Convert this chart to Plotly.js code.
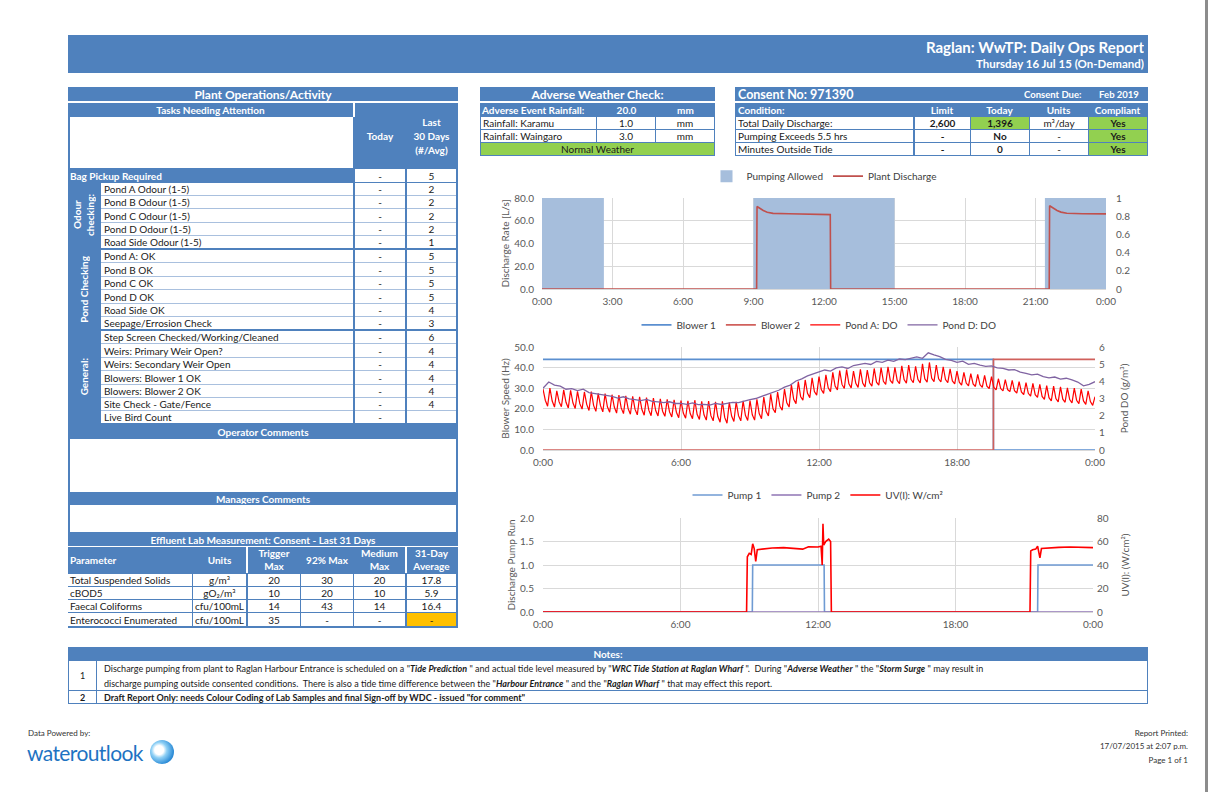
<!DOCTYPE html>
<html><head><meta charset="utf-8">
<script src="https://cdn.plot.ly/plotly-3.0.1.min.js"></script>
<style>
html,body{margin:0;padding:0;background:#fff;}
body{width:1208px;height:792px;position:relative;overflow:hidden;font-family:Lato,"Open Sans",sans-serif;}
.b{position:absolute;box-sizing:border-box;overflow:hidden;white-space:nowrap;}
.chart{position:absolute;}
</style></head><body>
<div id="page"></div>
<div id="c1" class="chart" style="left:478px;top:163px;width:680px;height:150px"></div>
<div id="c2" class="chart" style="left:478px;top:313px;width:680px;height:165px"></div>
<div id="c3" class="chart" style="left:478px;top:483px;width:680px;height:155px"></div>
<script>
// ---------------- DATA ----------------
const reportTitle = 'Raglan: WwTP: Daily Ops Report';
const reportSubtitle = 'Thursday 16 Jul 15 (On-Demand)';

const groupNames = ['Odour<br>checking:', 'Pond Checking', 'General:'];
const groupSizes = [5, 6, 7];
const taskLabels = ['Pond A Odour (1-5)','Pond B Odour (1-5)','Pond C Odour (1-5)','Pond D Odour (1-5)','Road Side Odour (1-5)',
  'Pond A: OK','Pond B OK','Pond C OK','Pond D OK','Road Side OK','Seepage/Errosion Check',
  'Step Screen Checked/Working/Cleaned','Weirs: Primary Weir Open?','Weirs: Secondary Weir Open','Blowers: Blower 1 OK','Blowers: Blower 2 OK','Site Check - Gate/Fence','Live Bird Count'];
const taskToday = ['-','-','-','-','-','-','-','-','-','-','-','-','-','-','-','-','-','-'];
const taskLast30 = ['2','2','2','2','1','5','5','5','5','4','3','6','4','4','4','4','4',''];
const bagPickup = ['Bag Pickup Required','-','5'];

const labParams = ['Total Suspended Solids','cBOD5','Faecal Coliforms','Enterococci Enumerated'];
const labUnits = ['g/m³','gO₂/m³','cfu/100mL','cfu/100mL'];
const labTrigger = ['20','10','14','35'];
const lab92 = ['30','20','43','-'];
const labMedium = ['20','10','14','-'];
const labAvg = ['17.8','5.9','16.4','-'];

const rainEvent = ['Adverse Event Rainfall:','20.0','mm'];
const rainSites = ['Rainfall: Karamu','Rainfall: Waingaro'];
const rainValues = ['1.0','3.0'];
const rainUnits = ['mm','mm'];
const weatherStatus = 'Normal Weather';

const consentNo = 'Consent No: 971390';
const consentDue = 'Feb 2019';
const condLabels = ['Total Daily Discharge:','Pumping Exceeds 5.5 hrs','Minutes Outside Tide'];
const condLimit = ['2,600','-','-'];
const condToday = ['1,396','No','0'];
const condUnits = ['m³/day','-','-'];
const condCompliant = ['Yes','Yes','Yes'];

// Chart 1
const allowStart = ['00:00','09:00','21:24'];
const allowEnd   = ['02:38','15:00','24:00'];
const allowValue = [1,1,1];
const dischargeTime  = ['00:00','09:08','09:09','09:15','09:25','09:35','09:50','10:30','11:30','12:16','12:17','21:35','21:36','21:45','21:55','22:05','22:20','23:00','24:00'];
const dischargeValue = [0,0,72.5,71,69,67.5,66.5,66.2,65.8,65.4,0,0,73.2,71.2,69,67.6,66.6,66.2,66];

// Chart 2
const blowerTime = ['00:00','19:35','19:35','24:00'];
const blower1 = [44,44,0,0];
const blower2 = [0,0,44,44];
const pondA = [ // g/m3, 6-minute samples
3.55,2.9,2.55, 3.6,2.85,2.5, 3.45,2.8,2.52, 3.5,2.78,2.45, 3.48,2.75,2.42, 3.42,2.7,2.38, 3.38,2.66,2.3, 3.4,2.6,2.25,
3.3,2.58,2.22, 3.28,2.52,2.2, 3.22,2.5,2.15, 3.2,2.45,2.12, 3.15,2.42,2.08, 3.12,2.38,2.05, 3.1,2.36,2.03, 3.05,2.32,2.0,
3.02,2.3,1.98, 2.98,2.26,1.96, 2.95,2.22,1.92, 2.92,2.2,1.88, 2.88,2.15,1.85, 2.86,2.12,1.82, 2.9,2.08,1.78, 2.84,2.05,1.74,
2.85,2.0,1.7, 2.8,1.95,1.62, 2.83,1.9,1.56, 2.78,1.98,1.66, 2.8,2.0,1.7, 2.86,2.02,1.72, 2.88,2.05,1.74, 2.95,2.12,1.82,
3.08,2.25,1.98, 3.25,2.4,2.18, 3.38,2.55,2.32, 3.55,2.75,2.5, 3.8,2.95,2.7, 3.98,3.12,2.9, 4.08,3.3,3.05, 4.2,3.4,3.2,
4.28,3.52,3.3, 4.38,3.62,3.4, 4.52,3.72,3.5, 4.62,3.82,3.58, 4.68,3.85,3.62, 4.6,3.88,3.65, 4.7,3.9,3.68, 4.66,3.92,3.72,
4.75,3.95,3.78, 4.8,4.0,3.82, 4.85,4.05,3.88, 4.82,4.05,3.86, 4.9,4.1,3.9, 4.95,4.12,3.92, 4.88,4.12,3.9, 5.02,4.15,3.95,
5.1,4.18,3.98, 4.95,4.15,3.96, 4.85,4.1,3.92, 4.72,4.02,3.85, 4.6,3.95,3.78, 4.52,3.9,3.74, 4.45,3.85,3.7, 4.4,3.8,3.65,
4.35,3.72,3.58, 4.28,3.65,3.5, 4.15,3.58,3.44, 4.1,3.52,3.4, 4.05,3.45,3.32, 3.98,3.38,3.22, 3.92,3.3,3.14, 3.88,3.22,3.06,
3.82,3.12,2.95, 3.75,3.05,2.86, 3.72,3.0,2.8, 3.68,2.96,2.78, 3.62,2.94,2.74, 3.6,2.9,2.7, 3.55,2.86,2.66, 3.45,2.82,2.6,
3.1];
const pondD = [ // g/m3, 15-minute samples
3.60,3.96,3.78,3.72, 3.54,3.58,3.46,3.54, 3.34,3.30,3.26,3.18, 3.12,3.02,3.10,2.98,
2.94,2.88,2.95,2.83, 2.80,2.76,2.81,2.71, 2.71,2.66,2.74,2.64, 2.66,2.62,2.71,2.65,
2.72,2.78,2.76,2.86, 2.94,3.00,3.12,3.22, 3.36,3.48,3.66,3.78, 4.02,4.14,4.32,4.44,
4.56,4.66,4.60,4.78, 4.84,4.75,4.92,4.99, 5.04,4.98,5.16,5.11, 5.23,5.16,5.30,5.26,
5.35,5.42,5.34,5.66, 5.54,5.44,5.28,5.22, 5.11,5.18,4.99,5.04, 4.94,4.87,4.90,4.78,
4.75,4.66,4.68,4.54, 4.46,4.38,4.42,4.27, 4.20,4.25,4.13,4.18, 4.08,3.96,3.74,3.82,
3.98];

// Chart 3
const pumpTime = ['00:00','09:08','09:09','12:16','12:17','21:35','21:36','24:00'];
const pump1 = [0,0,1,1,0,0,1,1];
const pump2Time = ['00:00','24:00'];
const pump2 = [0,0];
const uvTime = ['00:00','08:53','08:55','09:00','09:05','09:09','09:13','09:17','09:21','09:30','10:00','10:30','11:00','11:20','11:35','12:00','12:08','12:11','12:13','12:15','12:20','12:28','12:33','12:35',
  '21:15','21:17','21:22','21:30','21:35','21:38','21:41','21:45','22:00','22:30','23:00','23:30','24:00'];
const uvValue = [0,0,47,50,49,58,54,43,53,53.5,54.5,54.8,54.2,53.5,55.5,55.3,56,40,75,57,60,62,60,0,
  0,52,53,53.5,56,50,46,54,54.5,55,55.3,55.2,54.8];

const notesText1 = 'Discharge pumping from plant to Raglan Harbour Entrance is scheduled on a "<b><i>Tide Prediction</i></b> " and actual tide level measured by "<b><i>WRC Tide Station at Raglan Wharf</i></b> ".&nbsp; During "<b><i>Adverse Weather</i></b> " the "<b><i>Storm Surge</i></b> " may result in<br>discharge pumping outside consented conditions.&nbsp; There is also a tide time difference between the "<b><i>Harbour Entrance</i></b> " and the "<b><i>Raglan Wharf</i></b> " that may effect this report.';
const notesText2 = 'Draft Report Only: needs Colour Coding of Lab Samples and final Sign-off by WDC - issued "for comment"';

// ---------------- LAYOUT HELPERS ----------------
const BLUE = '#4f81bd', GREEN = '#92d050', ORANGE = '#ffc000', LINE = '#a9c0de';
const page = document.getElementById('page');
function box(x, y, w, h, html, css) {
  const d = document.createElement('div');
  d.className = 'b';
  d.style.cssText = `left:${x}px;top:${y}px;width:${w}px;height:${h}px;` + (css || '');
  d.innerHTML = html || '';
  page.appendChild(d);
  return d;
}
const HEAD = `background:${BLUE};color:#fff;font-weight:bold;display:flex;align-items:center;justify-content:center;font-size:10px;`;
const HT = 'color:#fff;font-weight:bold;display:flex;align-items:center;font-size:10px;';
const WC = 'background:#fff;color:#1a1a1a;display:flex;align-items:center;font-size:10px;';
const CEN = 'justify-content:center;';
const LEFT = 'justify-content:flex-start;padding-left:2px;';

// page right border
box(1205, 0, 3, 792, '', 'background:#8c8c8c');

// header
box(68, 35, 1080, 38, '', `background:${BLUE}`);
box(68, 37, 1076, 20, reportTitle, 'color:#fff;font-weight:bold;font-size:15px;text-align:right;line-height:20px');
box(68, 57, 1076, 14, reportSubtitle, 'color:#fff;font-weight:bold;font-size:11.5px;text-align:right;line-height:14px');

// ---- left panel
box(68, 87, 390, 541, '', `background:${BLUE}`);
box(68, 87, 390, 14, 'Plant Operations/Activity', HEAD + 'font-size:12px');
box(68, 101, 390, 2, '', 'background:#fff');
box(68, 103, 285, 13, 'Tasks Needing Attention', HEAD);
box(353, 103, 2, 14, '', 'background:#fff');
box(70, 117, 283, 51, '', 'background:#fff');
box(355, 103, 50, 66, 'Today', HEAD);
box(405, 103, 53, 66, 'Last<br>30 Days<br>(#/Avg)', HEAD + 'text-align:center;line-height:14px');
box(68, 169, 285, 13, bagPickup[0], HEAD + LEFT);
box(355, 169, 50, 13, bagPickup[1], WC + CEN);
box(407, 169, 49, 13, bagPickup[2], WC + CEN);

const rowH = 13.47, row0 = 182.5;
let idx = 0;
for (let g = 0; g < groupNames.length; g++) {
  const gt = Math.round(row0 + rowH * idx), gb = Math.round(row0 + rowH * (idx + groupSizes[g]));
  box(68, gt, 32, gb - gt - 2, `<span style="writing-mode:vertical-rl;transform:rotate(180deg);line-height:13px;text-align:center">${groupNames[g]}</span>`, HEAD);
  for (let i = 0; i < groupSizes[g]; i++, idx++) {
    const y = Math.round(row0 + rowH * idx), y2 = Math.round(row0 + rowH * (idx + 1));
    const last = i === groupSizes[g] - 1;
    const h = y2 - y - (last ? 2 : 0);
    const bb = last ? '' : `border-bottom:1px solid ${LINE};`;
    box(101, y, 252, h, taskLabels[idx], WC + 'padding-left:3px;' + bb);
    box(355, y, 50, h, taskToday[idx], WC + CEN + bb);
    box(407, y, 49, h, taskLast30[idx], WC + CEN + bb);
  }
}
box(68, 426, 390, 12, 'Operator Comments', HEAD);
box(70, 439, 386, 53, '', 'background:#fff');
box(68, 493, 390, 11, 'Managers Comments', HEAD);
box(70, 505, 386, 27, '', 'background:#fff');
box(68, 533, 390, 13, 'Effluent Lab Measurement: Consent - Last 31 Days', HEAD);
box(68, 546, 390, 1, '', 'background:#fff');
const lc = [[68,124],[193,53],[248,52],[301,52],[354,51],[407,49]];
const labHead = ['Parameter','Units','Trigger<br>Max','92% Max','Medium<br>Max','31-Day<br>Average'];
for (let c = 0; c < lc.length; c++) {
  box(lc[c][0], 547, lc[c][1], 26, labHead[c], HT + (c === 0 ? LEFT : CEN) + 'text-align:center;line-height:13px');
}
box(246, 547, 2, 26, '', 'background:#fff');
box(405, 547, 2, 26, '', 'background:#fff');
const labCols = [labParams, labUnits, labTrigger, lab92, labMedium, labAvg];
for (let r = 0; r < labParams.length; r++) {
  const y = 573 + 13 * r, h = r === 3 ? 13 : 12;
  for (let c = 0; c < lc.length; c++) {
    let css = WC + (c === 0 ? LEFT : CEN);
    if (c === 5 && r === 3) css += `background:${ORANGE};`;
    box(lc[c][0], y + 1, lc[c][1], h, labCols[c][r], css);
  }
}

// ---- Adverse weather panel
box(480, 87, 235, 69, '', `background:${BLUE}`);
box(480, 87, 235, 14, 'Adverse Weather Check:', HEAD + 'font-size:12px');
box(480, 101, 235, 2, '', 'background:#fff');
box(480, 103, 117, 13, rainEvent[0], HT + LEFT);
box(597, 103, 59, 13, rainEvent[1], HT + CEN);
box(656, 103, 59, 13, rainEvent[2], HT + CEN);
for (let r = 0; r < rainSites.length; r++) {
  const y = 117 + 13 * r;
  box(481, y, 115, 12, rainSites[r], WC + LEFT);
  box(597, y, 58, 12, rainValues[r], WC + CEN);
  box(656, y, 58, 12, rainUnits[r], WC + CEN);
}
box(481, 143, 233, 12, weatherStatus, WC + CEN + `background:${GREEN}`);

// ---- Consent panel
box(735, 87, 413, 69, '', `background:${BLUE}`);
box(738, 87, 200, 14, consentNo, HT + 'font-size:12.5px');
box(1024, 87, 64, 14, 'Consent Due:', HT + 'font-size:9.5px');
box(1090, 87, 58, 14, consentDue, HT + CEN + 'font-size:9.5px');
box(735, 101, 413, 2, '', 'background:#fff');
box(735, 103, 179, 13, 'Condition:', HT + 'padding-left:3px');
const cc = [[914,56],[970,59],[1029,59],[1088,59]];
const condHead = ['Limit','Today','Units','Compliant'];
for (let c = 0; c < 4; c++) box(cc[c][0], 103, cc[c][1], 13, condHead[c], HT + CEN);
const condCols = [condLimit, condToday, condUnits, condCompliant];
for (let r = 0; r < condLabels.length; r++) {
  const y = 117 + 13 * r;
  box(736, y, 177, 12, condLabels[r], WC + 'padding-left:2px');
  for (let c = 0; c < 4; c++) {
    let css = WC + CEN;
    if (c !== 2) css += 'font-weight:bold;';
    if (c === 3 || (c === 1 && r === 0)) css += `background:${GREEN};`;
    box(cc[c][0] + 1, y, cc[c][1] - 1, 12, condCols[c][r], css);
  }
}

// ---- Notes
box(68, 647, 1080, 57, '', `background:${BLUE}`);
box(68, 647, 1080, 13, 'Notes:', HEAD);
box(69, 661, 27, 29, '1', WC + CEN + 'font-size:9px');
box(97, 661, 1050, 29, notesText1, 'background:#fff;color:#1a1a1a;font-size:9px;line-height:15px;padding-left:7px;padding-top:0px');
box(69, 691, 27, 12, '2', WC + CEN + 'font-size:9px;font-weight:bold');
box(97, 691, 1050, 12, notesText2, WC + 'font-size:9px;font-weight:bold;padding-left:7px');

// ---- Footer
box(28, 727, 120, 12, 'Data Powered by:', 'font-size:8px;color:#333;line-height:12px');
box(27, 739, 125, 28, 'wateroutlook', 'font-size:21px;color:#1e73c2;letter-spacing:-0.6px;line-height:28px');
box(150, 740, 24, 24, '', 'border-radius:50%;background:radial-gradient(circle at 38% 42%, #ffffff 0 22%, #8fd0f5 38%, #2f8ed8 70%, #1565b8 100%)');
box(1030, 727, 158, 12, 'Report Printed:', 'font-size:8px;color:#333;text-align:right;line-height:12px');
box(1030, 740, 158, 12, '17/07/2015 at 2:07 p.m.', 'font-size:8px;color:#333;text-align:right;line-height:12px');
box(1030, 754, 158, 12, 'Page 1 of 1', 'font-size:8px;color:#333;text-align:right;line-height:12px');

// ---------------- CHARTS ----------------
function T(hm) { return hm === '24:00' ? '2015-07-17 00:00' : '2015-07-16 ' + hm; }
function minToHM(m) { const h = Math.floor(m / 60), mm = m % 60; return (h === 24 ? '24' : String(h).padStart(2, '0')) + ':' + String(mm).padStart(2, '0'); }
const pondATime = pondA.map((_, k) => T(minToHM(6 * k)));
const pondDTime = pondD.map((_, k) => T(minToHM(15 * k)));

const FONT = 'Lato, "Open Sans", sans-serif';
const GRID = '#d9d9d9', TXT = '#595959';
const tf = { size: 10, color: TXT, family: FONT };
function xax(h) {
  return { type: 'date', range: [T('00:00'), T('24:00')], tick0: T('00:00'), dtick: h * 3600000, tickformat: '%-H:%M',
    showgrid: true, gridcolor: GRID, gridwidth: 1, showline: true, linecolor: GRID, zeroline: false, ticks: '', tickfont: tf,
    ticklabelstandoff: 3, fixedrange: true, automargin: false };
}
function yax(o) {
  return Object.assign({ showgrid: false, gridcolor: GRID, zeroline: false, showline: false, ticks: '', tickfont: tf, fixedrange: true, automargin: false }, o);
}
function legend(y) {
  return { orientation: 'h', x: 0.5, xanchor: 'center', y: y, yanchor: 'middle', font: { size: 10, color: '#404040', family: FONT }, bgcolor: 'rgba(0,0,0,0)', itemwidth: 30, tracegroupgap: 0 };
}
const cfg = { displayModeBar: false, staticPlot: true };
const baseLayout = { paper_bgcolor: 'rgba(0,0,0,0)', plot_bgcolor: 'rgba(0,0,0,0)', font: { family: FONT, color: TXT }, showlegend: true, hovermode: false };
const ttl = (s, so) => ({ text: s, font: { size: 10, color: TXT, family: FONT }, standoff: so });

// Chart 1
const ms = s => new Date(T(s).replace(' ', 'T') + ':00Z').getTime();
Plotly.newPlot('c1', [
  { type: 'bar', name: 'Pumping Allowed', x: allowStart.map(T), y: allowValue, offset: 0,
    width: allowStart.map((s, i) => ms(allowEnd[i]) - ms(s)), marker: { color: '#a6bedc', line: { width: 0 } }, yaxis: 'y' },
  { type: 'scatter', mode: 'lines', name: 'Plant Discharge', x: dischargeTime.map(T), y: dischargeValue, yaxis: 'y2',
    line: { color: '#c0504d', width: 1.6 } }
], Object.assign({}, baseLayout, {
  margin: { l: 64, r: 52, t: 35, b: 24, autoexpand: false },
  xaxis: xax(3),
  yaxis: yax({ side: 'right', range: [0, 1], dtick: 0.2, ticklabelstandoff: 9 }),
  yaxis2: yax({ side: 'left', overlaying: 'y', range: [0, 80], dtick: 20, tickformat: '.1f', showgrid: true, ticklabelstandoff: 7,
    title: ttl('Discharge Rate [L/s]', 2) }),
  legend: legend(1.24)
}), cfg);

// Chart 2
Plotly.newPlot('c2', [
  { type: 'scatter', mode: 'lines', name: 'Blower 1', x: blowerTime.map(T), y: blower1, line: { color: '#5b8fd0', width: 1.6 } },
  { type: 'scatter', mode: 'lines', name: 'Blower 2', x: blowerTime.map(T), y: blower2, line: { color: '#d0605c', width: 1.6 } },
  { type: 'scatter', mode: 'lines', name: 'Pond A: DO', x: pondATime, y: pondA, yaxis: 'y2', line: { color: '#ff0000', width: 1.2 } },
  { type: 'scatter', mode: 'lines', name: 'Pond D: DO', x: pondDTime, y: pondD, yaxis: 'y2', line: { color: '#8064a2', width: 1.3 } }
], Object.assign({}, baseLayout, {
  margin: { l: 65, r: 63, t: 34, b: 28, autoexpand: false },
  xaxis: xax(6),
  yaxis: yax({ side: 'left', range: [0, 50], dtick: 10, tickformat: '.1f', showgrid: true, ticklabelstandoff: 8,
    title: ttl('Blower Speed (Hz)', 2) }),
  yaxis2: yax({ side: 'right', overlaying: 'y', range: [0, 6], dtick: 1, ticklabelstandoff: 3,
    title: ttl('Pond DO (g/m³)', 16) }),
  legend: legend(1.215)
}), cfg);

// Chart 3
Plotly.newPlot('c3', [
  { type: 'scatter', mode: 'lines', name: 'Pump 1', x: pumpTime.map(T), y: pump1, line: { color: '#6f9bd3', width: 1.6 } },
  { type: 'scatter', mode: 'lines', name: 'Pump 2', x: pump2Time.map(T), y: pump2, line: { color: '#8f75b5', width: 1.6 } },
  { type: 'scatter', mode: 'lines', name: 'UV(I): W/cm²', x: uvTime.map(T), y: uvValue, yaxis: 'y2', line: { color: '#ff0000', width: 1.6 } }
], Object.assign({}, baseLayout, {
  margin: { l: 65, r: 65, t: 35, b: 26, autoexpand: false },
  xaxis: xax(6),
  yaxis: yax({ side: 'left', range: [0, 2], dtick: 0.5, tickformat: '.1f', showgrid: true, ticklabelstandoff: 8,
    title: ttl('Discharge Pump Run', 2) }),
  yaxis2: yax({ side: 'right', overlaying: 'y', range: [0, 80], dtick: 20, ticklabelstandoff: 3,
    title: ttl('UV(I): (W/cm²)', 14) }),
  legend: legend(1.245)
}), cfg);
</script>
</body></html>
